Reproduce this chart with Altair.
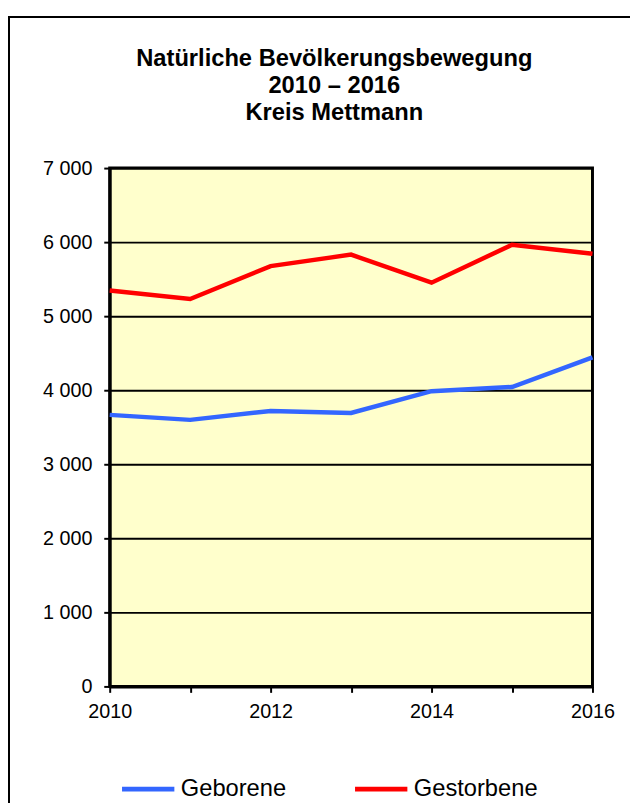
import altair as alt
import pandas as pd

years = [2010, 2011, 2012, 2013, 2014, 2015, 2016]
geborene = [3667, 3600, 3720, 3693, 3987, 4044, 4444]
gestorbene = [5347, 5231, 5676, 5831, 5453, 5964, 5844]
series_names = ["Geborene", "Gestorbene"]
series_colors = ["#3366FF", "#FF0000"]
y_ticks = [0, 1000, 2000, 3000, 4000, 5000, 6000, 7000]
title_lines = ["Natürliche Bevölkerungsbewegung", "2010 – 2016", "Kreis Mettmann"]

rows = []
for y, g, d in zip(years, geborene, gestorbene):
    rows.append({"Jahr": y, "Serie": series_names[0], "Wert": g})
    rows.append({"Jahr": y, "Serie": series_names[1], "Wert": d})
df = pd.DataFrame(rows)

FONT = "Liberation Sans"
W, H = 489, 525

lines = alt.Chart(df).mark_line(strokeWidth=4.5, strokeJoin="miter").encode(
    x=alt.X("Jahr:Q",
            scale=alt.Scale(domain=[2010, 2016], nice=False, zero=False),
            axis=alt.Axis(values=years, title=None, grid=False,
                          labelExpr="datum.value % 2 == 0 ? datum.label : ''",
                          format="d", labelFlush=False,
                          labelFontSize=20, labelFont=FONT, labelColor="#000",
                          labelPadding=9, tickSize=6, tickWidth=2, tickColor="#000",
                          domainColor="#000", domainWidth=3)),
    y=alt.Y("Wert:Q",
            scale=alt.Scale(domain=[0, 7000], nice=False),
            axis=alt.Axis(values=y_ticks, title=None, grid=True,
                          gridColor="#000", gridWidth=2, gridOpacity=1,
                          labelExpr="replace(format(datum.value, ','), ',', ' ')",
                          labelFontSize=20, labelFont=FONT, labelColor="#000",
                          labelPadding=12, tickSize=6, tickWidth=2, tickColor="#000",
                          domainColor="#000", domainWidth=3)),
    color=alt.Color("Serie:N",
                    scale=alt.Scale(domain=series_names, range=series_colors),
                    legend=alt.Legend(orient="none", legendX=10, legendY=600,
                                      direction="horizontal", title=None,
                                      symbolType="stroke", symbolSize=2809,
                                      symbolStrokeWidth=5, labelFontSize=24,
                                      labelFont=FONT, labelColor="#000",
                                      labelOffset=4, columnPadding=59, padding=0)),
)

top_border = alt.Chart(df).mark_rule(color="#000", strokeWidth=2).encode(
    x=alt.value(-103), x2=alt.value(527), y=alt.value(-153))
left_border = alt.Chart(df).mark_rule(color="#000", strokeWidth=2).encode(
    x=alt.value(-102), y=alt.value(-153), y2=alt.value(643))

chart = alt.layer(lines, top_border, left_border).properties(
    width=W, height=H,
    title=alt.TitleParams(text=title_lines, font=FONT, fontSize=24, fontWeight="bold",
                          color="#000", lineHeight=27, anchor="middle", dx=-17,
                          baseline="alphabetic", offset=-129),
    autosize=alt.AutoSizeParams(type="none"),
    padding={"left": 103, "top": 157, "right": 38, "bottom": 118},
).configure(background="#FFFFFF").configure_view(fill="#FFFFCC", stroke="#000", strokeWidth=3)

chart.save("out.html", embed_options={"renderer": "svg", "actions": False})
